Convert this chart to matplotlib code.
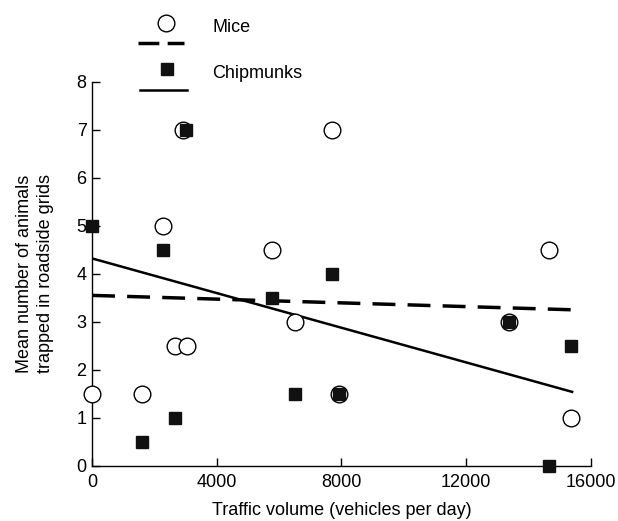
import matplotlib
matplotlib.use("Agg")
from matplotlib import pyplot as plt
from matplotlib.lines import Line2D

plt.rcParams['font.family'] = ['Liberation Sans', 'DejaVu Sans']

# data
mice_x = [0, 1600, 2280, 2660, 3040, 2920, 5770, 6500, 7690, 7920, 13370, 14650, 15380]
mice_y = [1.5, 1.5, 5.0, 2.5, 2.5, 7.0, 4.5, 3.0, 7.0, 1.5, 3.0, 4.5, 1.0]
chip_x = [0, 1600, 2280, 2660, 3010, 5770, 7690, 6500, 7920, 13370, 14650, 15380]
chip_y = [5.0, 0.5, 4.5, 1.0, 7.0, 3.5, 4.0, 1.5, 1.5, 3.0, 0.0, 2.5]

# fitted trend lines (end points)
trend_x = [0, 15400]
mice_trend = [3.55, 3.25]
chip_trend = [4.32, 1.54]

FS = 13

fig = plt.figure(figsize=(6.18, 5.21), dpi=100)
ax = fig.add_axes([0.149, 0.106, 0.807, 0.737])

ax.plot(trend_x, mice_trend, color='black', lw=2.5, dashes=(6.6, 3.5), zorder=2)
ax.plot(trend_x, chip_trend, color='black', lw=1.8, zorder=2)
ax.plot(mice_x, mice_y, 'o', ms=12, mfc='white', mec='black', mew=1.0,
        clip_on=False, zorder=3)
ax.plot(chip_x, chip_y, 's', ms=8.5, mfc='#111111', mec='#111111',
        clip_on=False, zorder=4)

ax.set_xlim(0, 16000)
ax.set_ylim(0, 8)
ax.set_xticks([0, 4000, 8000, 12000, 16000])
ax.set_yticks(range(0, 9))
ax.tick_params(direction='in', length=6, width=1, labelsize=FS)
ax.tick_params(axis='x', pad=6)
ax.tick_params(axis='y', pad=4)
for s in ['top', 'right']:
    ax.spines[s].set_visible(False)
for s in ['left', 'bottom']:
    ax.spines[s].set_linewidth(1)

ax.set_xlabel("Traffic volume (vehicles per day)", fontsize=FS, labelpad=8)
ax.set_ylabel("Mean number of animals\ntrapped in roadside grids", fontsize=FS,
              labelpad=16, linespacing=1.3)

# legend above the plot: marker over line
W, H = 618, 521
def fx(px):
    return px / W
def fy(py):
    return 1 - py / H

fig.add_artist(Line2D([fx(166)], [fy(23)], marker='o', ms=12, mfc='white',
                      mec='black', mew=1.0, transform=fig.transFigure))
fig.add_artist(Line2D([fx(138), fx(184)], [fy(43), fy(43)], color='black',
                      lw=2.5, dashes=(6, 2.4), transform=fig.transFigure))
fig.add_artist(Line2D([fx(167)], [fy(69)], marker='s', ms=8.5, mfc='#111111',
                      mec='#111111', transform=fig.transFigure))
fig.add_artist(Line2D([fx(140), fx(187)], [fy(90), fy(90)], color='black',
                      lw=1.8, transform=fig.transFigure))
fig.text(fx(212), fy(27), "Mice", fontsize=FS, va='center')
fig.text(fx(212), fy(74), "Chipmunks", fontsize=FS, va='center')

fig.savefig("out.png", dpi=100)
